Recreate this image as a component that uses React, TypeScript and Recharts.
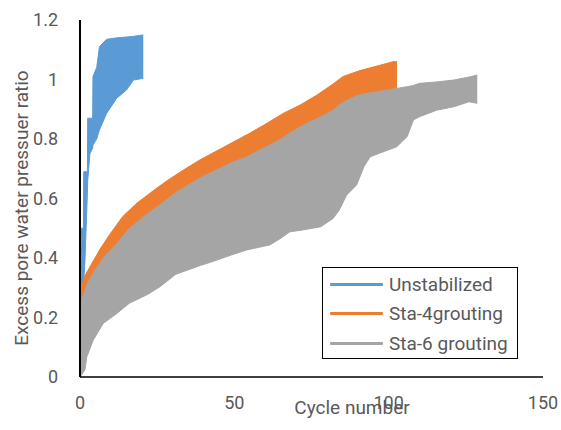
import { ComposedChart, Area, XAxis, YAxis } from 'recharts';

// each test is drawn as a band between the min and max ratio reached per cycle
const unstabCycles = [0, 0.3, 1.1, 1.2, 1.6, 2.4, 2.5, 3.2, 4.1, 4.2, 5.4, 6.3, 8.6, 11.9, 15.1, 17.3, 20.5];
const unstabLow = [0, 0.28, 0.3, 0.32, 0.39, 0.62, 0.66, 0.75, 0.77, 0.78, 0.8, 0.83, 0.886, 0.937, 0.965, 0.998, 1.004];
const unstabHigh = [0.3, 0.5, 0.5, 0.69, 0.69, 0.69, 0.87, 0.87, 0.87, 1.01, 1.04, 1.11, 1.135, 1.14, 1.143, 1.145, 1.15];

const sta4Cycles = [0, 0.3, 1.6, 3.2, 6.5, 9.7, 13.9, 18.5, 23.6, 28.2, 33.4, 38.9, 47, 55.1, 60.6, 65.8, 71.3, 76.8, 82, 85.2, 90.7, 96.2, 101.4, 102.7];
const sta4Low = [0, 0.2, 0.28, 0.31, 0.38, 0.42, 0.47, 0.52, 0.55, 0.59, 0.62, 0.66, 0.7, 0.74, 0.77, 0.8, 0.835, 0.865, 0.895, 0.92, 0.942, 0.953, 0.965, 0.97];
const sta4High = [0.22, 0.3, 0.34, 0.37, 0.43, 0.48, 0.54, 0.585, 0.625, 0.66, 0.695, 0.73, 0.775, 0.82, 0.853, 0.886, 0.914, 0.948, 0.985, 1.01, 1.03, 1.045, 1.06, 1.06];

const sta6Cycles = [0, 1.6, 2.2, 4.3, 7.5, 12, 16, 22, 26, 31, 39, 43, 49, 54, 61.5, 65, 68, 72, 78, 82, 84, 86.4, 89.6, 92, 94, 97, 102.6, 106, 108, 110, 115.6, 121, 126, 128.7];
const sta6Low = [0, 0.024, 0.068, 0.124, 0.18, 0.214, 0.248, 0.278, 0.304, 0.345, 0.375, 0.388, 0.41, 0.427, 0.444, 0.466, 0.488, 0.494, 0.505, 0.533, 0.561, 0.612, 0.645, 0.707, 0.74, 0.752, 0.774, 0.808, 0.864, 0.875, 0.897, 0.908, 0.925, 0.92];
const sta6High = [0.25, 0.29, 0.31, 0.35, 0.4, 0.45, 0.5, 0.55, 0.58, 0.62, 0.67, 0.69, 0.72, 0.74, 0.78, 0.8, 0.82, 0.845, 0.875, 0.897, 0.915, 0.93, 0.945, 0.952, 0.955, 0.96, 0.97, 0.976, 0.98, 0.987, 0.992, 0.998, 1.008, 1.015];

const xTicks = [0, 50, 100, 150];
const yTicks = [0, 0.2, 0.4, 0.6, 0.8, 1, 1.2];

const series = [
  { name: 'Unstabilized', color: '#5B9BD5', cycles: unstabCycles, low: unstabLow, high: unstabHigh },
  { name: 'Sta-4grouting', color: '#ED7D31', cycles: sta4Cycles, low: sta4Low, high: sta4High },
  { name: 'Sta-6 grouting', color: '#A5A5A5', cycles: sta6Cycles, low: sta6Low, high: sta6High },
];

const toRows = (cycles: number[], low: number[], high: number[]) =>
  cycles.map((c, i) => ({ cycle: c, band: [low[i], high[i]] }));

const FONT = 'Roboto, sans-serif';
const TEXT = '#595959';

// legend sits inside the plot, bottom right, with a black frame
function LegendBox() {
  return (
    <div
      style={{
        position: 'absolute', left: 322, top: 267, width: 194, height: 90,
        border: '1.5px solid #000', background: '#fff',
      }}
    >
      {series.map((s, i) => (
        <div key={s.name} style={{ position: 'absolute', left: 7, top: 4 + i * 29.5, display: 'flex', alignItems: 'center', height: 24 }}>
          <div style={{ width: 53, height: 3, background: s.color, borderRadius: 1 }} />
          <span style={{ marginLeft: 6, fontFamily: FONT, fontSize: 19, color: TEXT, whiteSpace: 'nowrap' }}>{s.name}</span>
        </div>
      ))}
    </div>
  );
}

export default function App() {
  return (
    <div style={{ position: 'absolute', left: 0, top: 0, width: 561, height: 430, background: '#fff' }}>
      <ComposedChart width={561} height={430} margin={{ top: 20, right: 18, bottom: 0, left: 0 }}>
        <XAxis
          type="number"
          dataKey="cycle"
          domain={[0, 150]}
          ticks={xTicks}
          height={53}
          tickLine={false}
          tickSize={0}
          tickMargin={19}
          axisLine={{ stroke: '#000', strokeWidth: 1.5 }}
          tick={{ fill: TEXT, fontSize: 18, fontFamily: FONT }}
          label={({ viewBox }: any) => (
            <text x={viewBox.x + 272} y={viewBox.y + 37} textAnchor="middle" fill={TEXT} fontSize={19} fontFamily={FONT}>
              Cycle number
            </text>
          )}
        />
        <YAxis
          type="number"
          domain={[0, 1.2]}
          ticks={yTicks}
          width={80}
          tickLine={false}
          tickSize={0}
          tickMargin={22}
          axisLine={{ stroke: '#000', strokeWidth: 2 }}
          tick={{ fill: TEXT, fontSize: 18, fontFamily: FONT }}
          label={() => (
            <text x={28} y={208} transform="rotate(-90, 28, 208)" textAnchor="middle" fill={TEXT} fontSize={19} fontFamily={FONT}>
              Excess pore water pressuer ratio
            </text>
          )}
        />
        {series.map((s) => (
          <Area
            key={s.name}
            name={s.name}
            data={toRows(s.cycles, s.low, s.high)}
            dataKey="band"
            type="linear"
            stroke={s.color}
            strokeWidth={1}
            fill={s.color}
            fillOpacity={1}
            isAnimationActive={false}
          />
        ))}
      </ComposedChart>
      <LegendBox />
    </div>
  );
}
